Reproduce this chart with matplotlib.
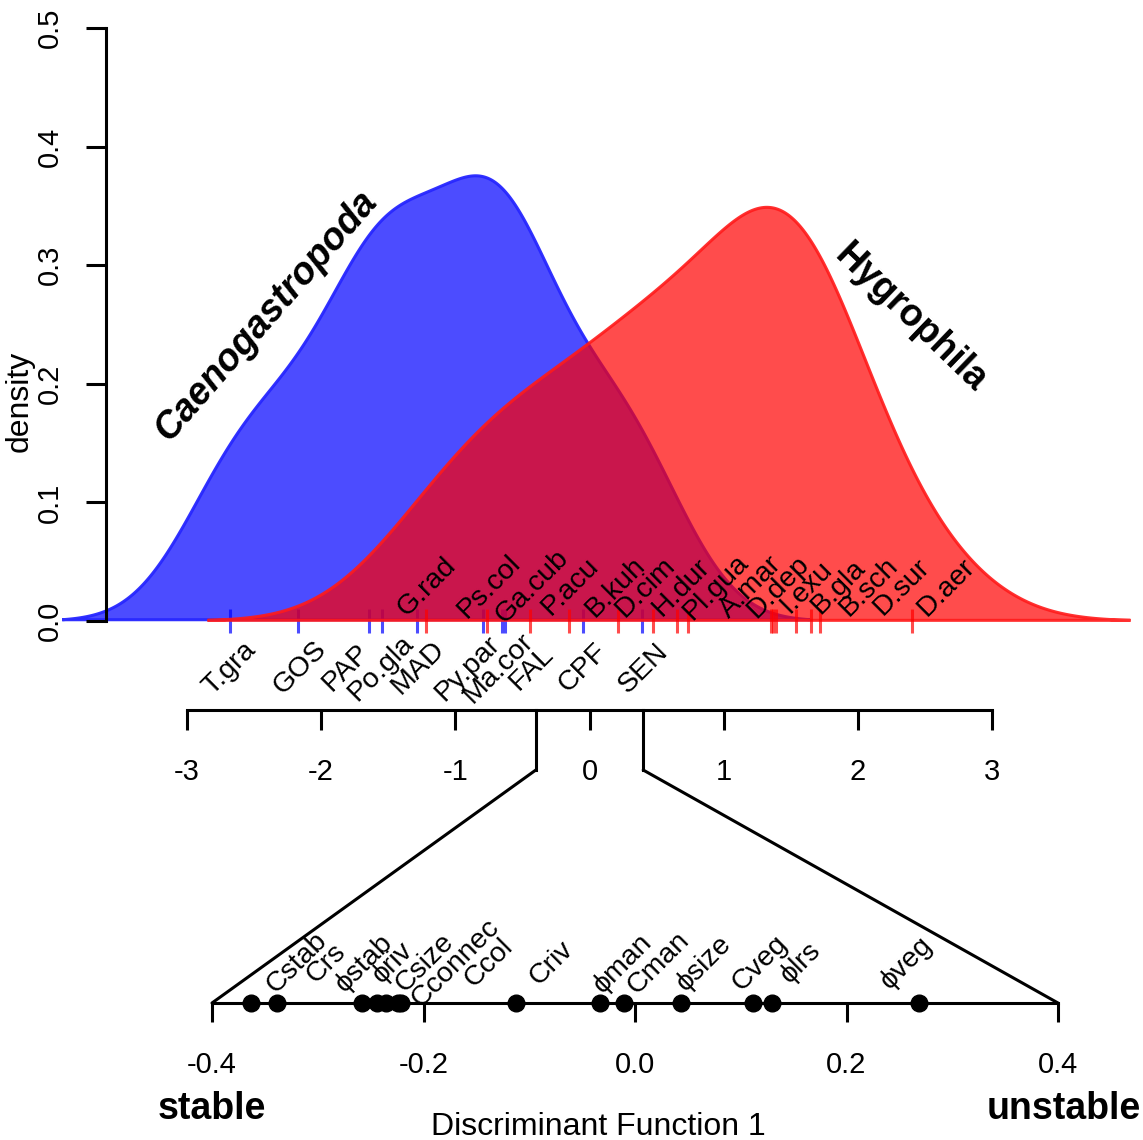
import numpy as np
import matplotlib
matplotlib.use('Agg')
import matplotlib.pyplot as plt
from matplotlib.patches import ConnectionPatch

plt.rcParams['font.family'] = ['Liberation Sans', 'DejaVu Sans']

# species scores on discriminant function 1
caeno_sp = ['T.gra', 'GOS', 'PAP', 'Po.gla', 'MAD', 'Py.par', 'Ma.cor', 'FAL', 'CPF', 'SEN']
caeno_df1 = [-2.679, -2.172, -1.643, -1.546, -1.285, -0.794, -0.652, -0.630, -0.048, 0.391]
hygro_sp = ['G.rad', 'Ps.col', 'Ga.cub', 'P.acu', 'B.kuh', 'D.cim', 'H.dur', 'Pl.gua',
            'A.mar', 'D.dep', 'I.exu', 'B.gla', 'B.sch', 'D.sur', 'D.aer']
hygro_df1 = [-1.218, -0.764, -0.443, -0.153, 0.212, 0.473, 0.652, 0.734,
             1.352, 1.371, 1.390, 1.539, 1.651, 1.718, 2.403]

# variable loadings on DF1
var_names = ['Cstab', 'Crs', 'ϕstab', 'ϕriv', 'Csize', 'Cconnec', 'Ccol', 'Criv',
             'ϕman', 'Cman', 'ϕsize', 'Cveg', 'ϕlrs', 'ϕveg']
var_load = [-0.363, -0.339, -0.258, -0.244, -0.235, -0.224, -0.221, -0.113,
            -0.033, -0.010, 0.0435, 0.112, 0.130, 0.269]

# label centres (spread out so they don't collide)
caeno_lab_x = [-2.683, -2.157, -1.814, -1.554, -1.278, -0.905, -0.674, -0.429, -0.052, 0.402]
hygro_lab_x = [-1.211, -0.749, -0.428, -0.145, 0.190, 0.414, 0.682, 0.943,
               1.203, 1.405, 1.614, 1.852, 2.083, 2.329, 2.657]
var_lab_x = [-0.320, -0.292, -0.256, -0.229, -0.199, -0.170, -0.138, -0.079,
             -0.011, 0.022, 0.065, 0.118, 0.157, 0.257]


def kde(v, n=512, cut=3):
   # gaussian kernel density, bandwidth like R's bw.nrd0
   v = np.asarray(v, dtype=float)
   iqr = np.subtract(*np.percentile(v, [75, 25]))
   bw = 0.9 * min(v.std(ddof=1), iqr / 1.34) * len(v) ** -0.2
   x = np.linspace(v.min() - cut * bw, v.max() + cut * bw, n)
   y = np.exp(-0.5 * ((x[:, None] - v[None, :]) / bw) ** 2).sum(1) / (len(v) * bw * np.sqrt(2 * np.pi))
   return x, y


W, H = 1143, 1140
def box(x0, y0, x1, y1):
   return [x0 / W, 1 - y1 / H, (x1 - x0) / W, (y1 - y0) / H]

fig = plt.figure(figsize=(W / 100, H / 100), dpi=100)

# ---- density panel
ax1 = fig.add_axes(box(106, 28, 1135, 621))
ax1.set_xlim((106 - 589.5) / 134.2, (1135 - 589.5) / 134.2)
ax1.set_ylim(0, 0.5)
ax1.patch.set_visible(False)
for s in ['top', 'right']:
   ax1.spines[s].set_visible(False)
ax1.spines['left'].set_bounds(0, 0.5)
ax1.spines['bottom'].set_position(('outward', 89 * 0.72))
ax1.spines['bottom'].set_bounds(-3, 3)
for s in ['left', 'bottom']:
   ax1.spines[s].set_linewidth(2.2)
ax1.set_xticks(range(-3, 4))
ax1.set_xticklabels([str(i) for i in range(-3, 4)])
ax1.set_yticks([0, 0.1, 0.2, 0.3, 0.4, 0.5])
ax1.set_yticklabels(['0.0', '0.1', '0.2', '0.3', '0.4', '0.5'], rotation=90, va='center')
ax1.tick_params(axis='both', length=14.4, width=2.2, labelsize=21)
ax1.tick_params(axis='x', pad=20)
ax1.tick_params(axis='y', pad=16)

xb, yb = kde(caeno_df1)
xr, yr = kde(hygro_df1)
ax1.fill(xb, yb, facecolor=(0, 0, 1, 0.7), edgecolor=(0.15, 0.15, 1, 0.95), lw=2.2, clip_on=False, zorder=1)
ax1.vlines(caeno_df1, -0.0101, 0.0101, color=(0, 0, 1, 0.7), lw=2.2, clip_on=False, zorder=1.1)
ax1.fill(xr, yr, facecolor=(1, 0, 0, 0.7), edgecolor=(1, 0.1, 0.1, 0.9), lw=2.2, clip_on=False, zorder=1.2)
ax1.vlines(hygro_df1, -0.0101, 0.0101, color=(1, 0, 0, 0.7), lw=2.2, clip_on=False, zorder=1.3)

for name, x in zip(hygro_sp, hygro_lab_x):
   ax1.text(x, 0.0287, name, rotation=45, rotation_mode='anchor', ha='center', va='center',
            fontsize=20.5, zorder=5)
for name, x in zip(caeno_sp, caeno_lab_x):
   ax1.text(x, -0.0396, name, rotation=45, rotation_mode='anchor', ha='center', va='center',
            fontsize=20.5, zorder=5, clip_on=False)

ax1.text(-2.411, 0.257, 'Caenogastropoda', rotation=49, rotation_mode='anchor', ha='center', va='center',
         fontsize=27, fontweight='bold', style='italic')
ax1.text(2.388, 0.2555, 'Hygrophila', rotation=-44, rotation_mode='anchor', ha='center', va='center',
         fontsize=27, fontweight='bold')

ax1.set_ylabel('density', fontsize=23)
ax1.yaxis.set_label_coords(-0.069, 0.371)

# ---- loadings panel
ax2 = fig.add_axes(box(150, 900, 1100, 1003))
ax2.set_xlim((150 - 635) / 1057.5, (1100 - 635) / 1057.5)
ax2.set_ylim(0, 1)
ax2.patch.set_visible(False)
for s in ['top', 'right', 'left']:
   ax2.spines[s].set_visible(False)
ax2.spines['bottom'].set_bounds(-0.4, 0.4)
ax2.spines['bottom'].set_linewidth(2.2)
ax2.set_yticks([])
ax2.set_xticks([-0.4, -0.2, 0, 0.2, 0.4])
ax2.set_xticklabels(['-0.4', '-0.2', '0.0', '0.2', '0.4'])
ax2.tick_params(axis='x', length=13.7, width=2.2, labelsize=21, pad=21)

ax2.plot(var_load, np.zeros(len(var_load)), 'o', color='black', ms=12, clip_on=False, zorder=5)
for name, x in zip(var_names, var_lab_x):
   ax2.text(x, 0.388, name, rotation=45, rotation_mode='anchor', ha='center', va='center', fontsize=20.5)

ax2.text(-0.4, -1.03, 'stable', ha='center', va='center', fontsize=27, fontweight='bold')
ax2.text(0.405, -1.03, 'unstable', ha='center', va='center', fontsize=27, fontweight='bold')
ax2.set_xlabel('Discriminant Function 1', fontsize=23)
ax2.xaxis.set_label_coords(0.4716, -1.06)

# zoom lines from the top axis down to the loadings axis
y_top = -89 / 1186
y_knee = -149 / 1186
for xz in [-0.4, 0.4]:
   ax1.plot([xz, xz], [y_top, y_knee], color='black', lw=2.2, clip_on=False)
   con = ConnectionPatch(xyA=(xz, y_knee), coordsA=ax1.transData, xyB=(xz, 0), coordsB=ax2.transData,
                         color='black', lw=2.2)
   fig.add_artist(con)

fig.savefig('out.png', dpi=100)
